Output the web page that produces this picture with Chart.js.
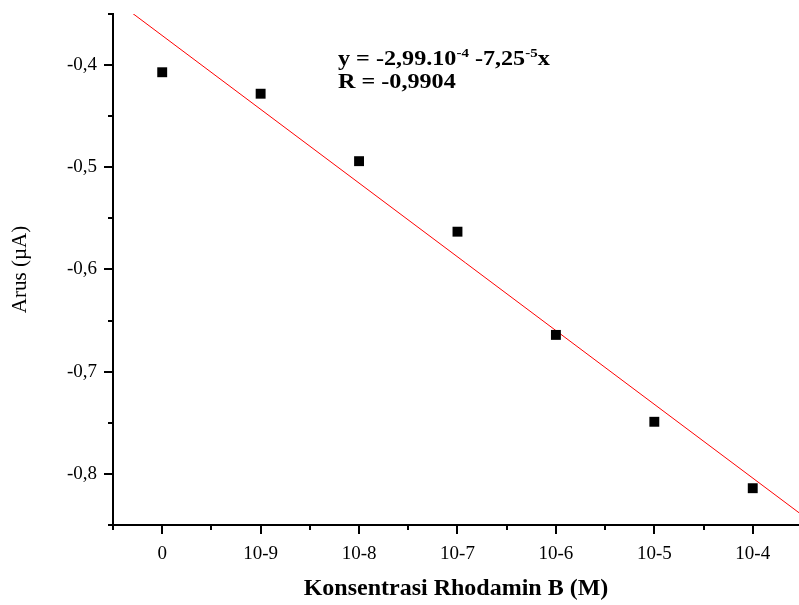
<!DOCTYPE html>
<html>
<head>
<meta charset="utf-8">
<script src="https://cdn.jsdelivr.net/npm/chart.js@4"></script>
<style>
  body { margin: 0; background: #fff; }
</style>
</head>
<body>
<canvas id="myChart" width="799" height="605"></canvas>
<script>
// categories on the x axis (index 0..6)
var xLabels = ["0", "10-9", "10-8", "10-7", "10-6", "10-5", "10-4"];
var xPos = [0, 1, 2, 3, 4, 5, 6];
// measured current (uA)
var yArus = [-0.407, -0.428, -0.494, -0.563, -0.664, -0.749, -0.814];
// linear fit, two end points
var fitX = [-0.5, 6.47];
var fitY = [-0.335, -0.838];
var yTickValues = [-0.8, -0.7, -0.6, -0.5, -0.4];
var yTickLabels = ["-0,8", "-0,7", "-0,6", "-0,5", "-0,4"];

var serif = "'Liberation Serif', 'Times New Roman', serif";

// outward major/minor tick marks like the original plot
var tickMarks = {
    id: "tickMarks",
    afterDraw: function (chart) {
        var ctx = chart.ctx;
        var xs = chart.scales.x, ys = chart.scales.y;
        var area = chart.chartArea;
        ctx.save();
        ctx.strokeStyle = "#000";
        ctx.lineWidth = 2;
        ctx.beginPath();
        for (var v = -0.85; v <= -0.349; v += 0.05) {
            var py = Math.round(ys.getPixelForValue(v));
            var major = Math.abs(v * 10 - Math.round(v * 10)) < 0.01;
            ctx.moveTo(area.left, py);
            ctx.lineTo(area.left - (major ? 9 : 5), py);
        }
        for (var u = -0.5; u <= 6.5; u += 0.5) {
            var px = Math.round(xs.getPixelForValue(u));
            if (px > area.right) continue;
            var maj = Math.abs(u - Math.round(u)) < 0.01;
            ctx.moveTo(px, area.bottom);
            ctx.lineTo(px, area.bottom + (maj ? 9 : 5));
        }
        ctx.stroke();
        ctx.restore();

        // fit equation (slightly wide lettering, like the original)
        ctx.save();
        ctx.fillStyle = "#000";
        ctx.textBaseline = "alphabetic";
        ctx.translate(338, 0);
        ctx.scale(1.15, 1);
        var big = "bold 21px " + serif, small = "bold 13px " + serif;
        var x = 0, y = 65;
        var parts = [["y = -2,99.10", big, 0], ["-4", small, -8], [" -7,25", big, 0], ["-5", small, -8], ["x", big, 0]];
        parts.forEach(function (p) {
            ctx.font = p[1];
            ctx.fillText(p[0], x, y + p[2]);
            x += ctx.measureText(p[0]).width;
        });
        ctx.font = big;
        ctx.fillText("R = -0,9904", 0, 88);
        ctx.restore();
    }
};

new Chart("myChart", {
    type: "scatter",
    data: {
        datasets: [{
            label: "Arus",
            data: xPos.map(function (x, i) { return { x: x, y: yArus[i] }; }),
            pointStyle: "rect",
            pointRadius: 7,
            pointHoverRadius: 7,
            backgroundColor: "#000",
            borderColor: "#000",
            borderWidth: 0
        }, {
            type: "line",
            label: "Fit",
            data: fitX.map(function (x, i) { return { x: x, y: fitY[i] }; }),
            borderColor: "rgb(255, 0, 0)",
            borderWidth: 1,
            pointRadius: 0,
            fill: false
        }]
    },
    options: {
        responsive: false,
        animation: false,
        layout: { autoPadding: false, padding: { top: 14, right: 0, left: 0, bottom: 0 } },
        plugins: {
            legend: { display: false },
            tooltip: { enabled: false }
        },
        scales: {
            x: {
                type: "linear",
                min: -0.5,
                max: 6.47,
                afterBuildTicks: function (scale) {
                    scale.ticks = xPos.map(function (v) { return { value: v }; });
                },
                afterFit: function (scale) {
                    scale.height = 80;
                    scale.paddingLeft = 0;
                    scale.paddingRight = 0;
                },
                grid: { display: true, drawOnChartArea: false, drawTicks: false },
                border: { display: true, color: "#000", width: 2 },
                ticks: {
                    color: "#000",
                    padding: 18,
                    font: { family: serif, size: 19 },
                    callback: function (v) { return xLabels[v]; }
                },
                title: {
                    display: true,
                    text: "Konsentrasi Rhodamin B (M)",
                    color: "#000",
                    font: { family: serif, size: 24, weight: "bold" },
                    padding: { top: 0, bottom: 2 }
                }
            },
            y: {
                min: -0.85,
                max: -0.35,
                afterBuildTicks: function (scale) {
                    scale.ticks = yTickValues.map(function (v) { return { value: v }; });
                },
                afterFit: function (scale) {
                    scale.width = 113;
                    scale.paddingTop = 0;
                    scale.paddingBottom = 0;
                },
                grid: { display: true, drawOnChartArea: false, drawTicks: false },
                border: { display: true, color: "#000", width: 2 },
                ticks: {
                    color: "#000",
                    padding: 16,
                    font: { family: serif, size: 19 },
                    callback: function (v) {
                        var i = yTickValues.indexOf(v);
                        return i >= 0 ? yTickLabels[i] : "";
                    }
                },
                title: {
                    display: true,
                    text: "Arus (µA)",
                    color: "#000",
                    font: { family: serif, size: 21 },
                    padding: { top: 8, bottom: 0 }
                }
            }
        }
    },
    plugins: [tickMarks]
});
</script>
</body>
</html>
